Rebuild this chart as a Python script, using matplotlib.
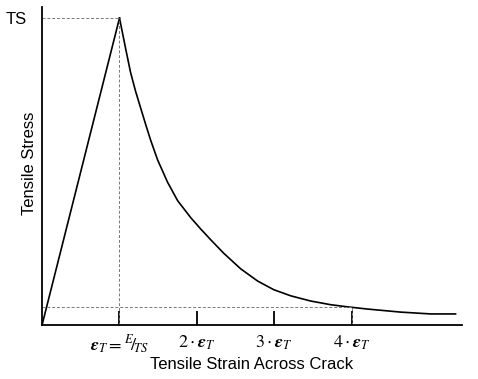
import matplotlib
matplotlib.use("Agg")
import matplotlib.pyplot as plt

plt.rcParams['font.family'] = ['Liberation Sans', 'DejaVu Sans']
plt.rcParams['mathtext.fontset'] = 'custom'
plt.rcParams['mathtext.rm'] = 'STIXGeneral'
plt.rcParams['mathtext.it'] = 'STIXGeneral:italic'
plt.rcParams['mathtext.bf'] = 'STIXGeneral:italic:bold'

# strain in multiples of eps_T, stress as fraction of TS
rise_x = [0.0, 1.0]
rise_y = [0.0, 1.0]
soft_x = [1.0, 1.078, 1.142, 1.207, 1.336, 1.401, 1.492, 1.621, 1.751, 1.919,
          2.048, 2.177, 2.345, 2.565, 2.785, 2.992, 3.212, 3.471, 3.73, 3.95,
          4.2, 4.63, 5.02, 5.34]
soft_y = [1.0, 0.902, 0.824, 0.762, 0.655, 0.603, 0.538, 0.465, 0.405, 0.350,
          0.313, 0.278, 0.234, 0.183, 0.143, 0.115, 0.095, 0.078, 0.066, 0.059,
          0.052, 0.042, 0.036, 0.036]
tick_pos = [1, 2, 3, 4]
tick_labels = [r'$\mathbf{\varepsilon}_{\mathit{T}} = {}^{\mathit{E}}\!/\!_{\mathit{TS}}$',
               r'$2\cdot\mathbf{\varepsilon}_{\mathit{T}}$',
               r'$3\cdot\mathbf{\varepsilon}_{\mathit{T}}$',
               r'$4\cdot\mathbf{\varepsilon}_{\mathit{T}}$']
low_x = 4
low_y = 0.059

fig = plt.figure(figsize=(4.78, 3.79), dpi=100)
ax = fig.add_axes([0.088, 0.1425, 0.878, 0.839])

ax.plot(rise_x, rise_y, color='k', lw=1.2)
ax.plot(soft_x, soft_y, color='k', lw=1.2)

dash = dict(color='#777777', lw=0.7, ls=(0, (3, 2)))
ax.plot([0, 1], [1, 1], **dash)
ax.plot([1, 1], [0, 1], **dash)
ax.plot([0, low_x], [low_y, low_y], **dash)
ax.plot([low_x, low_x], [0, low_y], **dash)

ax.set_xlim(0, 5.42)
ax.set_ylim(0, 1.036)
ax.spines['top'].set_visible(False)
ax.spines['right'].set_visible(False)
ax.spines['left'].set_linewidth(1.3)
ax.spines['bottom'].set_linewidth(1.3)

ax.set_xticks(tick_pos)
ax.set_xticklabels(tick_labels, fontsize=13)
ax.tick_params(axis='x', direction='in', length=10, width=1.3, pad=6)
ax.set_yticks([1])
ax.set_yticklabels(['TS'], fontsize=12)
ax.tick_params(axis='y', length=0, pad=11)

ax.set_xlabel('Tensile Strain Across Crack', fontsize=12, labelpad=1)
ax.set_ylabel('Tensile Stress', fontsize=12)
ax.yaxis.set_label_coords(-0.012, 0.51)

fig.savefig('out.png', dpi=100)
